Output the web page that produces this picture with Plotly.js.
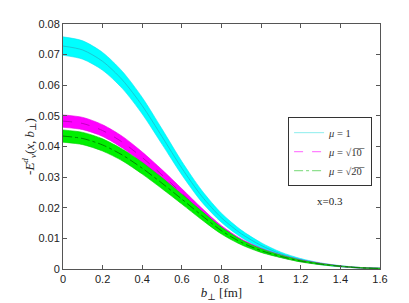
<!DOCTYPE html>
<html>
<head>
<meta charset="utf-8">
<script src="https://cdn.plot.ly/plotly-3.0.1.min.js"></script>
<style>html,body{margin:0;padding:0;background:#fff;}#chart{width:409px;height:303px;}</style>
</head>
<body>
<div id="chart"></div>
<script>
// b_perp values [fm]
const bPerp = [0, 0.1, 0.2, 0.3, 0.4, 0.5, 0.6, 0.7, 0.8, 0.9, 1.0, 1.1, 1.2, 1.3, 1.4, 1.5, 1.6];

// mu = 1 (cyan band)
const cyanMid = [0.0728, 0.0715, 0.0678, 0.0617, 0.0533, 0.0432, 0.0329, 0.0238, 0.0167, 0.0115, 0.0077, 0.0049, 0.0030, 0.0017, 0.0009, 0.0004, 0.0002];
const cyanHi  = [0.0758, 0.0745, 0.0707, 0.0645, 0.0560, 0.0457, 0.0351, 0.0257, 0.0182, 0.0127, 0.0086, 0.0055, 0.0034, 0.0020, 0.0011, 0.0005, 0.0003];
const cyanLo  = [0.0698, 0.0685, 0.0649, 0.0589, 0.0506, 0.0407, 0.0307, 0.0219, 0.0152, 0.0103, 0.0068, 0.0043, 0.0026, 0.0014, 0.0007, 0.0003, 0.0001];

// mu = sqrt(10) (magenta band)
const magMid = [0.0483, 0.0475, 0.0452, 0.0414, 0.0364, 0.0307, 0.0247, 0.0186, 0.0131, 0.0090, 0.0062, 0.0042, 0.0027, 0.0017, 0.0009, 0.0004, 0.0002];
const magHi  = [0.0503, 0.0495, 0.0471, 0.0433, 0.0382, 0.0324, 0.0262, 0.0199, 0.0141, 0.0098, 0.0068, 0.0046, 0.0030, 0.0019, 0.0010, 0.0005, 0.0003];
const magLo  = [0.0463, 0.0455, 0.0433, 0.0395, 0.0346, 0.0290, 0.0232, 0.0173, 0.0121, 0.0082, 0.0056, 0.0038, 0.0024, 0.0015, 0.0008, 0.0003, 0.0001];

// mu = sqrt(20) (green band)
const grnMid = [0.0434, 0.0426, 0.0405, 0.0372, 0.0329, 0.0280, 0.0228, 0.0175, 0.0125, 0.0087, 0.0060, 0.0041, 0.0026, 0.0016, 0.0009, 0.0004, 0.0002];
const grnHi  = [0.0454, 0.0446, 0.0425, 0.0391, 0.0348, 0.0298, 0.0244, 0.0189, 0.0136, 0.0095, 0.0066, 0.0045, 0.0029, 0.0018, 0.0010, 0.0005, 0.0003];
const grnLo  = [0.0414, 0.0406, 0.0385, 0.0353, 0.0310, 0.0262, 0.0212, 0.0161, 0.0114, 0.0079, 0.0054, 0.0037, 0.0023, 0.0014, 0.0008, 0.0003, 0.0001];

const legendNames = ['<i>μ</i> = 1', '<i>μ</i> = √1̅0̅', '<i>μ</i> = √2̅0̅'];
const xTitle = '<i>b</i><sub>⊥</sub> [fm]';
const yTitle = '-<i>E</i><sup><i>d</i></sup><sub><i>v</i></sub>(<i>x</i>, <i>b</i><sub>⊥</sub>)';
const note = 'x=0.3';

function band(lo, hi, mid, fill, edge, midColor, midDash) {
  return [
    {x: bPerp, y: lo, mode: 'lines', line: {color: edge, width: 0.6, shape: 'spline', smoothing: 0.8}, showlegend: false, hoverinfo: 'skip'},
    {x: bPerp, y: hi, mode: 'lines', line: {color: edge, width: 0.6, shape: 'spline', smoothing: 0.8}, fill: 'tonexty', fillcolor: fill, showlegend: false, hoverinfo: 'skip'},
    {x: bPerp, y: mid, mode: 'lines', line: {color: midColor, width: 0.8, dash: midDash, shape: 'spline', smoothing: 0.8}, showlegend: false}
  ];
}

const traces = [].concat(
  band(cyanLo, cyanHi, cyanMid, '#00ffff', '#10e0f0', '#20b8c8', 'solid'),
  band(magLo, magHi, magMid, '#ff00ff', '#e800e8', '#b000b0', 'dash'),
  band(grnLo, grnHi, grnMid, '#00f000', '#00d000', '#006a00', 'dashdot'),
  [
    {x: [null], y: [null], mode: 'lines', name: legendNames[0], line: {color: '#9ff0f0', width: 1.2, dash: 'solid'}},
    {x: [null], y: [null], mode: 'lines', name: legendNames[1], line: {color: '#ff80ff', width: 1.2, dash: 'dash'}},
    {x: [null], y: [null], mode: 'lines', name: legendNames[2], line: {color: '#90e090', width: 1.2, dash: 'dashdot'}}
  ]
);

const axisCommon = {
  showgrid: false, zeroline: false, showline: true, linecolor: '#555', linewidth: 1,
  mirror: 'ticks', ticks: 'inside', ticklen: 4, tickcolor: '#555',
  tickfont: {family: 'Liberation Sans, Arial, sans-serif', size: 11, color: '#222'}
};

const layout = {
  width: 409, height: 303,
  margin: {l: 63, r: 29, t: 24, b: 34},
  paper_bgcolor: '#fff', plot_bgcolor: '#fff',
  xaxis: Object.assign({}, axisCommon, {
    range: [0, 1.6], dtick: 0.2, tick0: 0,
    title: {text: xTitle, font: {family: 'Liberation Serif, DejaVu Serif, serif', size: 13, color: '#222'}, standoff: 2}
  }),
  yaxis: Object.assign({}, axisCommon, {
    range: [0, 0.08], dtick: 0.01, tick0: 0,
    title: {text: yTitle, font: {family: 'Liberation Serif, DejaVu Serif, serif', size: 13, color: '#222'}, standoff: 0}
  }),
  showlegend: true,
  legend: {
    x: 0.975, y: 0.62, xanchor: 'right', yanchor: 'top',
    bgcolor: '#fff', bordercolor: '#333', borderwidth: 1,
    font: {family: 'Liberation Serif, DejaVu Serif, serif', size: 10.5, color: '#333'},
    tracegroupgap: 0, itemwidth: 30, traceorder: 'normal'
  },
  annotations: [{
    x: 0.842, y: 0.278, xref: 'paper', yref: 'paper', xanchor: 'center', yanchor: 'middle',
    text: note, showarrow: false,
    font: {family: 'Liberation Serif, DejaVu Serif, serif', size: 11, color: '#222'}
  }]
};

Plotly.newPlot('chart', traces, layout, {displayModeBar: false, staticPlot: true});
</script>
</body>
</html>
